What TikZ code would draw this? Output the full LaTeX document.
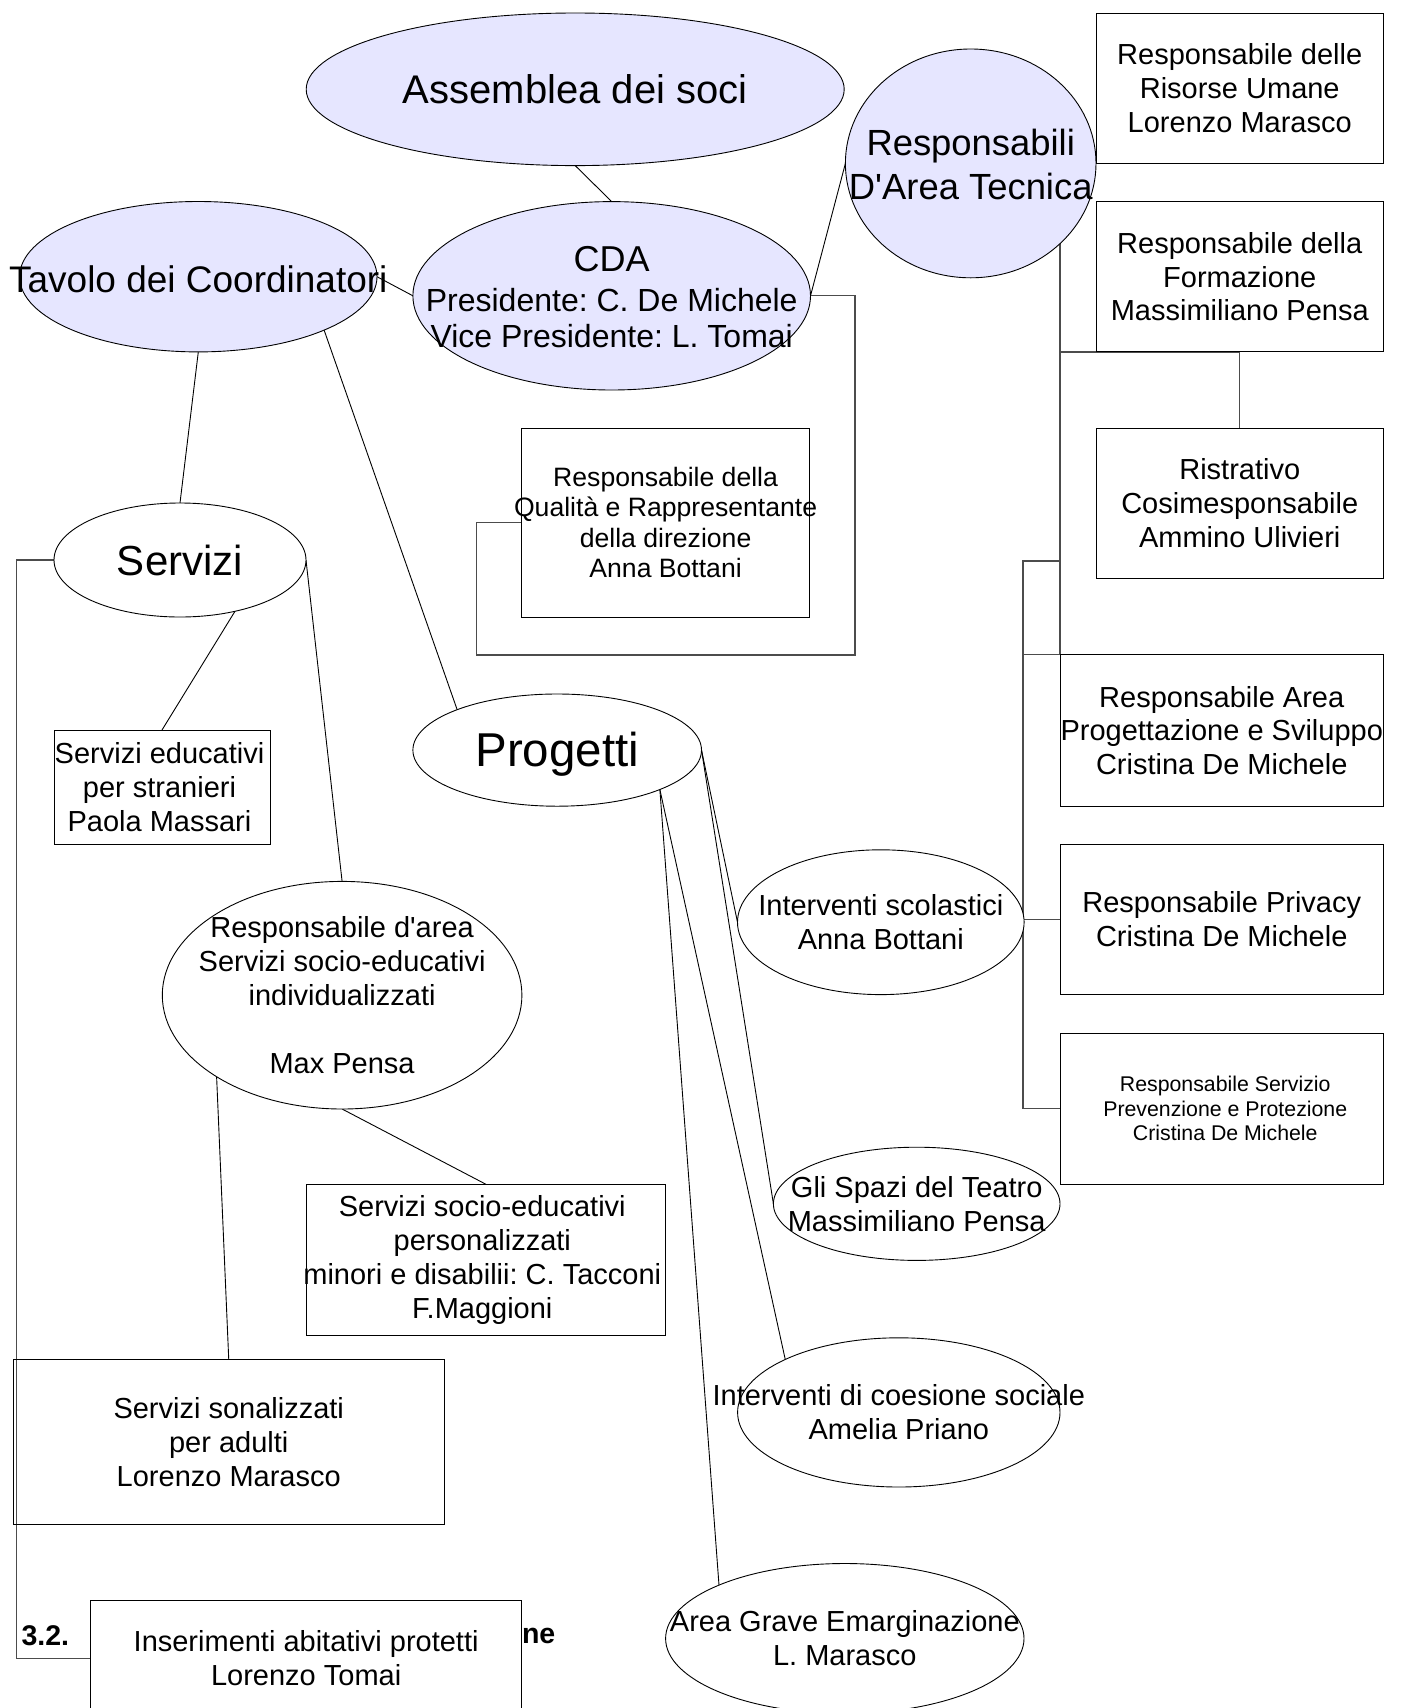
\documentclass[tikz,border=0pt]{standalone}
\usepackage{fontspec}
\setmainfont{Liberation Sans}
\usetikzlibrary{shapes.geometric,backgrounds}
\definecolor{lav}{RGB}{230,230,255}
\frenchspacing
\begin{document}
\frenchspacing
\begin{tikzpicture}[x=1pt,y=-1pt,
  ell/.style={ellipse, draw=black, line width=0.9pt, inner sep=0pt, outer sep=0pt},
  lavell/.style={ell, fill=lav},
  whell/.style={ell, fill=white},
  bx/.style={rectangle, draw=black, line width=1pt, inner sep=0pt, outer sep=0pt, fill=white},
  txt/.style={align=center, inner sep=0pt, outer sep=0pt, text=black},
  fs/.style 2 args={font=\fontsize{#1}{#2}\selectfont},
  hd/.style={inner sep=0pt, outer sep=0pt, font=\fontsize{28.5}{33}\selectfont\bfseries},
  conn/.style={draw=black, line width=0.9pt},
  orth/.style={draw=black!70, line width=1.2pt}
]
\useasboundingbox (0,0) rectangle (1401,1708);

% heading partly hidden behind a box
\node[hd, anchor=west] (h32) at (21.5,1636) {3.2.};
\node[hd, anchor=west] (hne) at (522,1636) {ne};

% ellipses
\node[lavell, minimum width=538, minimum height=152.6,
  label={[txt,fs={40}{46},name=asmT]center:{Assemblea dei soci}}] (asm) at (575.2,89.3) {};
\node[lavell, minimum width=397.6, minimum height=188.4,
  label={[txt,fs={36}{41},name=cdaT1,yshift=36.8]center:{CDA}},
  label={[txt,fs={32}{36},name=cdaT2,yshift=-21.8]center:{Presidente: C. De Michele\\Vice Presidente: L. Tomai}}] (cda) at (611.7,295.8) {};
\node[lavell, minimum width=357.4, minimum height=150.4,
  label={[txt,fs={37}{42},name=tavT,yshift=-2.3]center:{Tavolo dei Coordinatori}}] (tav) at (198.3,276.7) {};
\node[lavell, minimum width=250.6, minimum height=228.8,
  label={[txt,fs={36.4}{43.5},name=ratT,yshift=-1]center:{Responsabili\\D\textquotesingle Area Tecnica}}] (rat) at (970.7,163.4) {};
\node[whell, minimum width=252, minimum height=114,
  label={[txt,fs={42}{48},name=servT]center:{Servizi}}] (serv) at (180,560) {};
\node[whell, minimum width=288.6, minimum height=112.2,
  label={[txt,fs={47.5}{54},name=progT,yshift=-4]center:{Progetti}}] (prog) at (557.2,750.1) {};
\node[whell, minimum width=359.6, minimum height=227.6,
  label={[txt,fs={29}{33.8},name=rdaT]center:{Responsabile d\textquotesingle area\\Servizi socio-educativi\\individualizzati\\\mbox{}\\Max Pensa}}] (rda) at (342.1,995.2) {};
\node[whell, minimum width=286.6, minimum height=144.8,
  label={[txt,fs={29}{33.8},name=iscT]center:{Interventi scolastici\\Anna Bottani}}] (isc) at (880.8,922.2) {};
\node[whell, minimum width=286.6, minimum height=113.2,
  label={[txt,fs={29}{33.8},name=spzT]center:{Gli Spazi del Teatro\\Massimiliano Pensa}}] (spz) at (916.7,1203.8) {};
\node[whell, minimum width=322.4, minimum height=149.2,
  label={[txt,fs={29}{33.8},name=coeT]center:{Interventi di coesione sociale\\Amelia Priano}}] (coe) at (898.8,1412.4) {};
\node[whell, minimum width=358.4, minimum height=150,
  label={[txt,fs={29}{33.8},name=grvT]center:{Area Grave Emarginazione\\L. Marasco}}] (grv) at (844.8,1638.5) {};

% boxes
\node[bx, minimum width=287.5, minimum height=150.4,
  label={[txt,fs={29}{33.8},name=b1T]center:{Responsabile delle\\Risorse Umane\\Lorenzo Marasco}}] (b1) at (1239.75,88.2) {};
\node[bx, minimum width=287.5, minimum height=150.4,
  label={[txt,fs={29}{33.8},name=b2T]center:{Responsabile della\\Formazione\\Massimiliano Pensa}}] (b2) at (1239.75,276.7) {};
\node[bx, minimum width=287.5, minimum height=150.5,
  label={[txt,fs={29}{33.8},name=b3T]center:{Ristrativo\\Cosimesponsabile\\Ammino Ulivieri}}] (b3) at (1239.75,503.25) {};
\node[bx, minimum width=323.5, minimum height=151.5,
  label={[txt,fs={29}{33.8},name=b4T]center:{Responsabile Area\\Progettazione e Sviluppo\\Cristina De Michele}}] (b4) at (1221.75,730.45) {};
\node[bx, minimum width=323.5, minimum height=150.3,
  label={[txt,fs={29}{33.8},name=b5T]center:{Responsabile Privacy\\Cristina De Michele}}] (b5) at (1221.75,919.45) {};
\node[bx, minimum width=323.5, minimum height=151,
  label={[txt,fs={21.3}{24.5},name=b6T,xshift=3.5]center:{Responsabile Servizio\\Prevenzione e Protezione\\Cristina De Michele}}] (b6) at (1221.75,1108.5) {};
\node[bx, minimum width=287.6, minimum height=189,
  label={[txt,fs={26.6}{30.5},name=b7T]center:{Responsabile della\\Qualità e Rappresentante\\della direzione\\Anna Bottani}}] (b7) at (665.6,522.5) {};
\node[bx, minimum width=216, minimum height=114,
  label={[txt,fs={29}{33.8},name=b8T,xshift=-2.5]center:{Servizi educativi\\per stranieri\\Paola Massari}}] (b8) at (162,787) {};
\node[bx, minimum width=359.6, minimum height=151.4,
  label={[txt,fs={29}{33.8},name=b9T,xshift=-3.5]center:{Servizi socio-educativi\\personalizzati\\minori e disabilii: C. Tacconi\\F.Maggioni}}] (b9) at (485.8,1259.9) {};
\node[bx, fill=none, minimum width=431.5, minimum height=164.5,
  label={[txt,fs={29}{33.8},name=b10T]center:{Servizi sonalizzati\\per adulti\\Lorenzo Marasco}}] (b10) at (228.75,1441.85) {};
\node[bx, minimum width=431.3, minimum height=117,
  label={[txt,fs={29}{33.8},name=b11T]center:{Inserimenti abitativi protetti\\Lorenzo Tomai}}] (b11) at (306.15,1658.5) {};

% connectors
\begin{pgfonlayer}{background}
\fill[white] (0,0) rectangle (1401,1708);
\coordinate (k1) at (855,655);
\coordinate (k2) at (476.5,655);
\coordinate (brk) at (16.5,1000);
\coordinate (t2) at (1023,561);
\draw[conn] (asm.south) -- (cda.north);
\draw[conn] (tav.east) -- (cda.west);
\draw[conn] (cda.east) -- (rat.west);
\draw[orth] (cda.east) -| (k1) -- (k2) |- (b7.west);
\draw[conn] (tav.south) -- (serv.north);
\draw[conn] (tav.-23) -- (prog.158);
\draw[conn] (serv.-43) -- (b8.north);
\draw[conn] (serv.east) -- (rda.north);
\draw[conn] (rda.south) -- (b9.north);
\draw[conn] (rda.213) -- (b10.north);
\draw[orth] (serv.west) -| (brk) |- (b11.west);
\draw[conn] (prog.east) -- (isc.west);
\draw[conn] (prog.east) -- (spz.west);
\draw[conn] (prog.-21) -- (coe.155);
\draw[conn] (prog.-21) -- (grv.157);
\draw[orth] (rat.center -| b4.north west) -- (b4.north west);
\draw[orth] (b4.north west |- b2.south) -- (b2.south) -- (b3.north);
\draw[orth] (t2 -| b4.west) -- (t2) -- (t2 |- b6.west) -- (b6.west);
\draw[orth] (t2 |- b4.north west) -- (b4.north west);
\draw[orth] (t2 |- b5.west) -- (b5.west);
\end{pgfonlayer}
\end{tikzpicture}
\end{document}
